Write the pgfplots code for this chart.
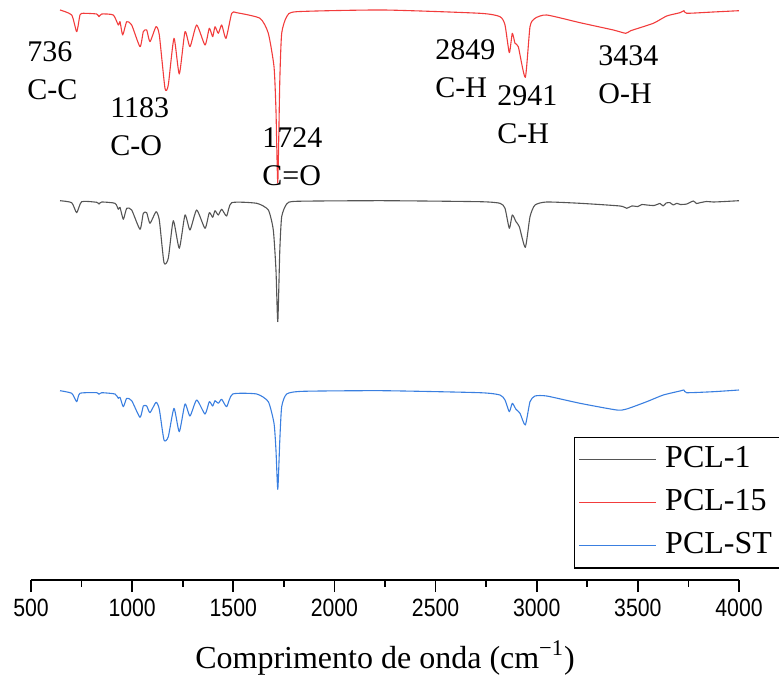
\documentclass[border=0pt]{standalone}
\usepackage{fontspec}
\setmainfont{Liberation Serif}
\newfontfamily\narrowsans{Liberation Sans}[FakeStretch=0.85]
\usepackage{pgfplots}
\pgfplotsset{compat=1.18}
\usepackage{pgfplotstable}
\definecolor{cblack}{RGB}{85,85,85}
\definecolor{cred}{RGB}{242,60,60}
\definecolor{cblue}{RGB}{58,127,224}

\pgfplotstableread{
x y
643.4 590
701.2 585
725.9 568.3
742.2 585
758.5 586.7
824.8 586
836.2 583.3
849.5 586
906.8 585
931.6 575
940 578.3
953.3 565
973.1 578.3
997.8 575
1038.8 553.3
1055.2 568.3
1072 570
1088.3 558.3
1117.9 573.3
1134.3 565
1162.4 511.7
1178.7 515
1206.9 561.7
1233.1 526
1261.3 568.3
1286 553.3
1319.1 575
1360.2 555
1381.4 571.7
1398.2 563.3
1409.6 573.3
1425.9 566.7
1442.7 575
1464 561.7
1492.2 586.7
1516.9 587.3
1632 581.7
1673.1 566.7
1701.3 533.3
1711 490
1720 417
1730 520
1739.3 566.7
1764 583.3
1813.5 588.3
2240 590
2719.6 586.7
2818.5 583.3
2843.2 575
2864.5 547.3
2879.3 566.7
2892.7 556.7
2909 553.3
2943.6 522.7
2966.8 573.3
2991.5 581.7
3049.4 585
3214 577.3
3378.6 570
3440 566.7
3465 569.3
3576.3 576.7
3642.6 584
3708.3 587.3
3728.1 589.3
3741.5 586.7
3873 588
4000 589.3
}\pclfifteen

\pgfplotstableread{
x y
643.4 399.3
701.2 397.3
725.9 387.3
750.6 398.3
824.8 397.7
836.2 396
849.5 398
915.3 396.7
931.6 390.7
940 392.7
956.3 380.7
973.1 391.7
997.8 390
1038.8 370.7
1055.2 386.7
1072 387.3
1088.3 376.7
1117.9 388.3
1134.3 380
1157.5 337.3
1178.7 341.7
1203.5 379.3
1233.1 351.7
1261.3 385
1286 370
1319.1 390
1360.2 371.7
1381.4 387.3
1398.2 382.7
1409.6 389.3
1425.9 385
1442.7 390.7
1467.4 384
1492.2 397.3
1615.7 396.7
1673.1 390
1697.8 370
1711 330
1720 278.3
1730 350
1739.3 383.3
1764 396
1813.5 398.7
2240 399.3
2719.6 398.3
2818.5 396.7
2843.2 391.7
2864.5 371.7
2879.3 385
2897.6 378.3
2913.9 373.3
2943.6 352.7
2966.8 383.3
2991.5 395
3049.4 398
3214 396.7
3411.7 394
3444.8 391.7
3470 394
3500 393.5
3520 395.5
3543.7 395
3580 394.5
3609.5 396.5
3625 394
3640 397
3658.9 397.3
3675 395
3692 396.7
3710 395.5
3741.5 396
3774.1 399
3790 396.5
3807.2 397.3
3840 398.5
3873 398
3930 398.5
4000 399.3
}\pclone

\pgfplotstableread{
x y
643.4 209.3
701.2 206.7
725.9 198.3
742.2 206.7
824.8 207.3
836.2 205.7
849.5 207.3
915.3 206
931.6 201.7
940 202.7
956.3 193.3
973.1 201.7
997.8 199.3
1038.8 182.7
1055.2 194
1072 194
1088.3 187.3
1117.9 197.7
1134.3 190.7
1157.5 160
1178.7 163.3
1206.9 191.7
1233.1 168.3
1261.3 196
1286 184
1319.1 200
1360.2 186
1381.4 198.3
1398.2 194
1409.6 199.3
1425.9 196.7
1442.7 200.7
1467.4 193.3
1497.1 206
1615.7 206
1673.1 198.3
1701.3 176.7
1711 150
1720 110.7
1730 160
1739.3 193.3
1764 206
1846.1 208.7
2240 209.3
2719.6 207.3
2818.5 205
2843.2 200
2864.5 188.3
2879.3 196.7
2897.6 190.7
2917.4 186.7
2943.6 175
2966.8 198.3
2991.5 204
3049.4 204
3214 196.7
3395.4 190
3444.8 191
3543.7 198.3
3625.8 205
3708.3 209
3728.1 210
3741.5 207.3
3873 208.3
4000 210
}\pclst

\begin{document}
\begin{tikzpicture}
\begin{axis}[
  name=ax,
  scale only axis,
  width=354pt, height=290pt,
  xmin=500, xmax=4000, ymin=20, ymax=600,
  axis x line=bottom, axis y line=none,
  axis line style={-, line width=0.8pt},
  xtick={500,1000,1500,2000,2500,3000,3500,4000},
  xticklabels={500,1000,1500,2000,2500,3000,3500,4000},
  minor x tick num=1,
  tick align=outside,
  major tick length=6pt, minor tick length=3.3pt,
  every tick/.style={line width=0.8pt, black},
  xticklabel style={font=\narrowsans\fontsize{12.5}{14}\selectfont},
  xlabel={Comprimento de onda (cm\textsuperscript{−1})},
  xlabel style={font=\fontsize{16}{19}\selectfont, at={(axis description cs:0.5,0)}, anchor=base, yshift=-44pt},
  ytick=\empty,
  clip=false,
  legend cell align=left,
  legend style={draw=black, line width=0.7pt, at={(axis cs:3184,163.3)}, anchor=north west,
    font=\fontsize{16}{19}\selectfont, inner xsep=2pt, inner ysep=0.5pt,
    nodes={text height=12.5pt, text depth=4.5pt, inner sep=2.2pt},
    column sep=2pt},
]
\addlegendimage{legend image code/.code={\draw[draw=cblack, line width=0.6pt] (0pt,0pt) -- (38.5pt,0pt);}}
\addlegendentry{PCL-1}
\addlegendimage{legend image code/.code={\draw[draw=cred, line width=0.6pt] (0pt,0pt) -- (38.5pt,0pt);}}
\addlegendentry{PCL-15}
\addlegendimage{legend image code/.code={\draw[draw=cblue, line width=0.6pt] (0pt,0pt) -- (38.5pt,0pt);}}
\addlegendentry{PCL-ST}

\addplot[cblack, forget plot, line width=0.55pt, line join=round, smooth, tension=0.35] table[x=x,y=y] {\pclone};
\addplot[cred, forget plot, line width=0.55pt, line join=round, smooth, tension=0.35] table[x=x,y=y] {\pclfifteen};
\addplot[cblue, forget plot, line width=0.55pt, line join=round, smooth, tension=0.35] table[x=x,y=y] {\pclst};

\begin{scope}[every node/.style={font=\fontsize{15}{19}\selectfont, align=left, anchor=base west, inner sep=0pt}]
\node at (axis cs:480,500) {736\\C-C};
\node at (axis cs:890,444) {1183\\C-O};
\node at (axis cs:1642,414) {1724\\C=O};
\node at (axis cs:2497,502) {2849\\C-H};
\node at (axis cs:2804,456) {2941\\C-H};
\node at (axis cs:3303,496) {3434\\O-H};
\end{scope}
\end{axis}
\pgfresetboundingbox
\path ([shift={(-15.5pt,-47pt)}]ax.south west) rectangle ([shift={(20pt,0pt)}]ax.north east);
\end{tikzpicture}
\end{document}
